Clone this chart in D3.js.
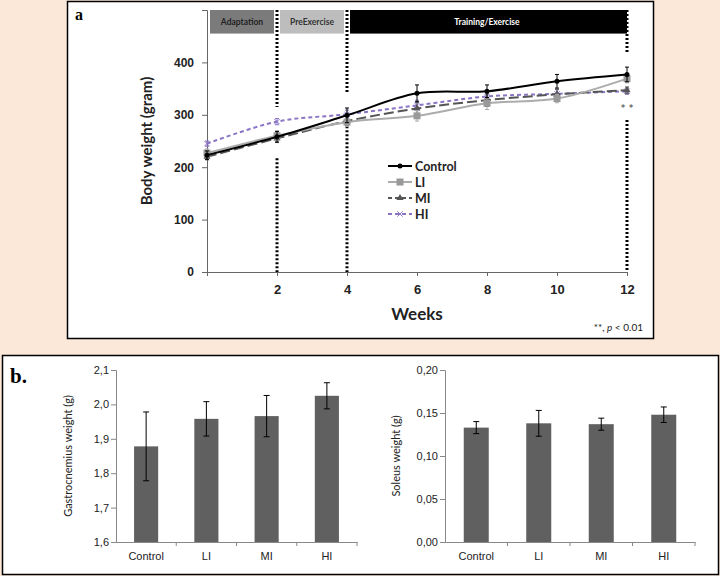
<!DOCTYPE html>
<html>
<head>
<meta charset="utf-8">
<script src="https://cdn.jsdelivr.net/npm/d3@7"></script>
<style>
  html, body { margin: 0; padding: 0; background: #fbe8d9; }
  svg { display: block; font-family: Lato, "Open Sans", sans-serif; }
</style>
</head>
<body>
<svg id="chart" width="720" height="576"></svg>
<script>
// panel a: body weight over weeks
const weeks = [0, 2, 4, 6, 8, 10, 12];
const groupNames = ["Control", "LI", "MI", "HI"];
const controlWeight = [223, 258, 299, 341, 345, 364, 377];
const liWeight = [227, 260, 286, 298, 322, 331, 369];
const miWeight = [220, 255, 288, 312, 328, 339, 347];
const hiWeight = [245, 287, 301, 318, 335, 340, 345];
const controlErr = [8, 10, 14, 16, 12, 13, 14];
const liErr = [8, 10, 8, 10, 12, 8, 8];
const miErr = [6, 8, 8, 12, 12, 10, 6];
const hiErr = [5, 6, 8, 10, 10, 8, 6];
const weightTicks = [0, 100, 200, 300, 400, 500];
const phases = [
  { name: "Adaptation", from: 0, to: 2 },
  { name: "PreExercise", from: 2, to: 4 },
  { name: "Training/Exercise", from: 4, to: 12 },
];

// panel b: muscle weights
const barGroups = ["Control", "LI", "MI", "HI"];
const gastroWeight = [1.878, 1.958, 1.966, 2.025];
const gastroErr = [0.1, 0.05, 0.06, 0.038];
const gastroTicks = [1.6, 1.7, 1.8, 1.9, 2.0, 2.1];
const soleusWeight = [0.133, 0.138, 0.137, 0.148];
const soleusErr = [0.007, 0.015, 0.007, 0.009];
const soleusTicks = [0, 0.05, 0.1, 0.15, 0.2];

const svg = d3.select("#chart");

// boxes
svg.append("rect").attr("x", 67.5).attr("y", 1.5).attr("width", 586).attr("height", 337)
  .attr("fill", "#fff").attr("stroke", "#000").attr("stroke-width", 1.5);
svg.append("rect").attr("x", 2.5).attr("y", 355.5).attr("width", 716).attr("height", 219)
  .attr("fill", "#fff").attr("stroke", "#000").attr("stroke-width", 1.5);

svg.append("text").attr("x", 75).attr("y", 20).text("a")
  .style("font-family", "'Liberation Serif', serif").style("font-weight", "bold").style("font-size", "16px");
svg.append("text").attr("x", 10).attr("y", 383).text("b.")
  .style("font-family", "'Liberation Serif', serif").style("font-weight", "bold").style("font-size", "21px");

// ---------- panel a ----------
const x = d3.scaleLinear().domain([0, 12]).range([207, 627]);
const y = d3.scaleLinear().domain([0, 500]).range([272, 10]);

const gA = svg.append("g");

// phase band
gA.selectAll(".phase")
  .data(phases)
  .enter()
  .append("rect")
  .attr("x", (d) => x(d.from) + 3)
  .attr("y", y(500))
  .attr("width", (d) => x(d.to) - x(d.from) - (d.to === 12 ? 3 : 6))
  .attr("height", y(455) - y(500))
  .attr("fill", (d, i) => ["#7b7b7b", "#bdbdbd", "#000"][i]);
gA.selectAll(".phaseLabel")
  .data(phases)
  .enter()
  .append("text")
  .attr("x", (d) => (x(d.from) + x(d.to)) / 2)
  .attr("y", (y(500) + y(455)) / 2 + 3)
  .attr("text-anchor", "middle")
  .attr("fill", (d, i) => ["#222", "#333", "#fff"][i])
  .style("font-size", "8.5px")
  .style("font-weight", "bold")
  .text((d) => d.name);

// dotted dividers
const dividers = [
  { w: 2, top: [500, 315], bottom: [217, 0] },
  { w: 4, top: [500, 341], bottom: [286, 0] },
  { w: 12, top: [500, 417], bottom: [290, 0] },
];
dividers.forEach((d) => {
  [d.top, d.bottom].forEach((seg) => {
    gA.append("line")
      .attr("x1", x(d.w)).attr("x2", x(d.w))
      .attr("y1", y(seg[0])).attr("y2", y(seg[1]))
      .attr("stroke", "#000").attr("stroke-width", 3)
      .attr("stroke-dasharray", "2,2");
  });
});

// axes
gA.append("g")
  .attr("transform", `translate(${x(0)},0)`)
  .call(d3.axisLeft(y).tickValues(weightTicks).tickSize(5).tickFormat((d) => (d < 500 ? d : "")))
  .call((g) => g.select(".domain").attr("stroke", "#666"))
  .call((g) => g.selectAll(".tick line").attr("stroke", "#666"))
  .call((g) => g.selectAll("text").attr("x", -13).style("font-size", "12px").style("font-weight", "bold").attr("fill", "#222"));

gA.append("g")
  .attr("transform", `translate(0,${y(0)})`)
  .call(d3.axisBottom(x).tickValues(weeks).tickSize(4).tickFormat((d) => (d === 0 ? "" : d)))
  .call((g) => g.select(".domain").attr("stroke", "#666"))
  .call((g) => g.selectAll(".tick line").attr("stroke", "#666"))
  .call((g) => g.selectAll("text").attr("y", 13).style("font-size", "13px").style("font-weight", "bold").attr("fill", "#222"));

gA.append("text")
  .attr("transform", `translate(152,${y(250)}) rotate(-90)`)
  .attr("text-anchor", "middle")
  .style("font-size", "15px").style("font-weight", "bold").attr("fill", "#222")
  .text("Body weight (gram)");
gA.append("text").attr("x", x(6)).attr("y", 320).attr("text-anchor", "middle")
  .style("font-size", "17px").style("font-weight", "bold").attr("fill", "#222").text("Weeks");

const pNote = gA.append("text").attr("x", 643).attr("y", 331).attr("text-anchor", "end")
  .style("font-size", "10px").attr("fill", "#222");
pNote.append("tspan").text("**, ");
pNote.append("tspan").style("font-style", "italic").text("p");
pNote.append("tspan").text(" < 0.01");

gA.append("text").attr("x", x(12)).attr("y", y(303)).attr("text-anchor", "middle")
  .style("font-size", "12px").style("font-weight", "bold").attr("fill", "#666").text("* *");

// series
const series = [
  { name: "Control", values: controlWeight, err: controlErr, color: "#000", dash: null, marker: "circle", width: 2 },
  { name: "LI", values: liWeight, err: liErr, color: "#acacac", dash: null, marker: "square", width: 2 },
  { name: "MI", values: miWeight, err: miErr, color: "#555", dash: "10,4", marker: "triangle", width: 2 },
  { name: "HI", values: hiWeight, err: hiErr, color: "#8a74c4", dash: "4,3", marker: "star", width: 2 },
];

const line = d3.line()
  .x((d, i) => x(weeks[i]))
  .y((d) => y(d))
  .curve(d3.curveCatmullRom.alpha(0.5));

function drawMarker(g, type, cx, cy, color) {
  if (type === "circle") {
    g.append("circle").attr("cx", cx).attr("cy", cy).attr("r", 2.5).attr("fill", color);
  } else if (type === "square") {
    g.append("rect").attr("x", cx - 3.5).attr("y", cy - 3.5).attr("width", 7).attr("height", 7).attr("fill", "#999");
  } else if (type === "triangle") {
    g.append("path").attr("d", d3.symbol(d3.symbolTriangle, 22)()).attr("transform", `translate(${cx},${cy})`).attr("fill", color);
  } else {
    g.append("path").attr("d", d3.symbol(d3.symbolTimes, 20)()).attr("transform", `translate(${cx},${cy})`)
      .attr("fill", "none").attr("stroke", color).attr("stroke-width", 1);
  }
}

series.slice().reverse().forEach((s) => {
  const g = gA.append("g");
  // error bars
  s.values.forEach((v, i) => {
    const cx = x(weeks[i]);
    g.append("line").attr("x1", cx).attr("x2", cx).attr("y1", y(v - s.err[i])).attr("y2", y(v + s.err[i]))
      .attr("stroke", s.color).attr("stroke-width", 1);
    [v - s.err[i], v + s.err[i]].forEach((e) => {
      g.append("line").attr("x1", cx - 2).attr("x2", cx + 2).attr("y1", y(e)).attr("y2", y(e))
        .attr("stroke", s.color).attr("stroke-width", 1);
    });
  });
  g.append("path").datum(s.values).attr("d", line).attr("fill", "none")
    .attr("stroke", s.color).attr("stroke-width", s.width)
    .attr("stroke-dasharray", s.dash);
  s.values.forEach((v, i) => drawMarker(g, s.marker, x(weeks[i]), y(v), s.color));
});

// legend
const legend = gA.append("g").attr("transform", "translate(388,166)");
series.forEach((s, i) => {
  const row = legend.append("g").attr("transform", `translate(0,${i * 16})`);
  row.append("line").attr("x1", 0).attr("x2", 24).attr("y1", 0).attr("y2", 0)
    .attr("stroke", s.color).attr("stroke-width", 2).attr("stroke-dasharray", s.dash ? "4,3" : null);
  drawMarker(row, s.marker, 12, 0, s.color);
  row.append("text").attr("x", 27).attr("y", 4.5).text(s.name)
    .style("font-size", "12.5px").style("font-weight", "bold").attr("fill", "#222");
});

// ---------- panel b ----------
function barChart(left, right, domain, ticks, values, errs, fmt, label, labelX) {
  const g = svg.append("g");
  const xb = d3.scaleBand().domain(barGroups).range([left, right]).paddingInner(0.6).paddingOuter(0.3);
  const xEdges = d3.scaleBand().domain(barGroups).range([left, right]);
  const yb = d3.scaleLinear().domain(domain).range([542, 370]);

  g.append("g")
    .attr("transform", `translate(${left},0)`)
    .call(d3.axisLeft(yb).tickValues(ticks).tickSize(5).tickFormat(fmt))
    .call((a) => a.select(".domain").attr("stroke", "#888"))
    .call((a) => a.selectAll(".tick line").attr("stroke", "#888"))
    .call((a) => a.selectAll("text").attr("x", -7).style("font-size", "11px").attr("fill", "#222"));

  g.append("g")
    .attr("transform", `translate(0,${yb(domain[0])})`)
    .call(d3.axisBottom(xb).tickSize(0))
    .call((a) => a.select(".domain").attr("stroke", "#888"))
    .call((a) => a.selectAll("text").attr("y", 10).style("font-size", "11px").attr("fill", "#222"));

  g.selectAll(".edge").data(barGroups).enter().append("line")
    .attr("x1", (d) => xEdges(d) + xEdges.bandwidth()).attr("x2", (d) => xEdges(d) + xEdges.bandwidth())
    .attr("y1", yb(domain[0])).attr("y2", yb(domain[0]) + 4).attr("stroke", "#888");

  g.selectAll(".bar").data(values).enter().append("rect")
    .attr("x", (d, i) => xb(barGroups[i]))
    .attr("y", (d) => yb(d))
    .attr("width", xb.bandwidth())
    .attr("height", (d) => yb(domain[0]) - yb(d))
    .attr("fill", "#606060");

  values.forEach((v, i) => {
    const cx = xb(barGroups[i]) + xb.bandwidth() / 2;
    g.append("line").attr("x1", cx).attr("x2", cx).attr("y1", yb(v - errs[i])).attr("y2", yb(v + errs[i]))
      .attr("stroke", "#000").attr("stroke-width", 1);
    [v - errs[i], v + errs[i]].forEach((e) => {
      g.append("line").attr("x1", cx - 3).attr("x2", cx + 3).attr("y1", yb(e)).attr("y2", yb(e))
        .attr("stroke", "#000").attr("stroke-width", 1);
    });
  });

  g.append("text")
    .attr("transform", `translate(${labelX},456) rotate(-90)`)
    .attr("text-anchor", "middle")
    .style("font-size", "11px").attr("fill", "#222")
    .text(label);
}

const comma = (digits) => (d) => d.toFixed(digits).replace(".", ",");
barChart(116, 357, [1.6, 2.1], gastroTicks, gastroWeight, gastroErr, comma(1), "Gastrocnemius  weight (g)", 72);
barChart(445, 695, [0, 0.2], soleusTicks, soleusWeight, soleusErr, comma(2), "Soleus weight (g)", 400);
</script>
</body>
</html>
